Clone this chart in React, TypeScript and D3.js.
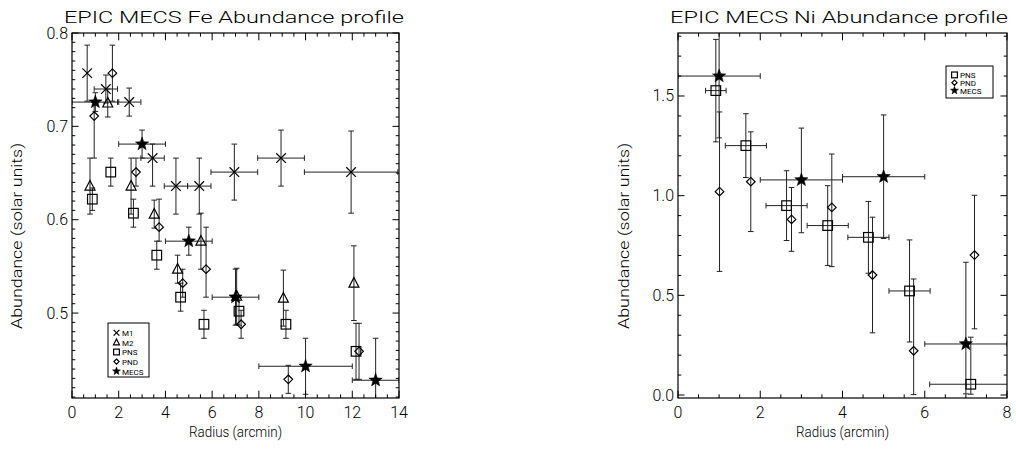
import React from 'react';
import * as d3 from 'd3';

// ---------- Fe panel data ----------
const feM1X = [0.65, 1.45, 2.45, 3.45, 4.45, 5.45, 6.95, 8.95, 11.95];
const feM1Xerr = [0, 0.5, 0.5, 0.5, 0.5, 0.5, 1.0, 1.0, 2.0];
const feM1Y = [0.757, 0.740, 0.726, 0.666, 0.636, 0.636, 0.651, 0.666, 0.651];
const feM1Lo = [0.030, 0.015, 0.015, 0.030, 0.030, 0.030, 0.030, 0.030, 0.044];
const feM1Hi = [0.030, 0.015, 0.015, 0.015, 0.030, 0.030, 0.030, 0.030, 0.044];

const feM2X = [0.77, 1.53, 2.53, 3.52, 4.52, 5.52, 7.05, 9.05, 12.07];
const feM2Y = [0.636, 0.725, 0.636, 0.606, 0.547, 0.577, 0.518, 0.516, 0.532];
const feM2Err = [0.030, 0.015, 0.030, 0.015, 0.015, 0.030, 0.030, 0.030, 0.040];

const fePnsX = [0.87, 1.66, 2.63, 3.63, 4.65, 5.65, 7.15, 9.16, 12.16];
const fePnsY = [0.622, 0.651, 0.607, 0.562, 0.517, 0.488, 0.502, 0.488, 0.459];
const fePnsErr = [0.012, 0.015, 0.015, 0.015, 0.015, 0.015, 0.015, 0.015, 0.030];

const fePndX = [0.95, 1.73, 2.74, 3.73, 4.74, 5.74, 7.24, 9.26, 12.29];
const fePndY = [0.711, 0.757, 0.651, 0.592, 0.532, 0.547, 0.488, 0.429, 0.459];
const fePndLo = [0.045, 0.030, 0.015, 0.015, 0.015, 0.030, 0.015, 0.015, 0.030];
const fePndHi = [0.015, 0.030, 0.015, 0.030, 0.015, 0.045, 0.015, 0.015, 0.030];

const feMecsX = [1, 3, 5, 7, 10, 13];
const feMecsXerr = [1, 1, 1, 1, 2, 1];
const feMecsY = [0.726, 0.681, 0.577, 0.517, 0.443, 0.428];
const feMecsErr = [0.010, 0.015, 0.015, 0.030, 0.030, 0.045];

// ---------- Ni panel data ----------
const niPnsX = [0.92, 1.65, 2.64, 3.64, 4.63, 5.63, 7.12];
const niPnsXerr = [0.25, 0.5, 0.5, 0.5, 0.5, 0.5, 1.0];
const niPnsY = [1.527, 1.251, 0.950, 0.850, 0.791, 0.522, 0.054];
const niPnsLo = [0.257, 0.16, 0.175, 0.20, 0.18, 0.256, 0.05];
const niPnsHi = [0.257, 0.16, 0.175, 0.20, 0.18, 0.256, 0.236];

const niPndX = [1.01, 1.77, 2.76, 3.74, 4.73, 5.73, 7.21];
const niPndY = [1.02, 1.07, 0.881, 0.941, 0.602, 0.222, 0.702];
const niPndLo = [0.40, 0.25, 0.16, 0.297, 0.29, 0.22, 0.37];
const niPndHi = [0.40, 0.25, 0.16, 0.268, 0.29, 0.36, 0.30];

const niMecsX = [1, 3, 5, 7];
const niMecsXerr = [1, 1, 1, 1];
const niMecsY = [1.60, 1.079, 1.095, 0.256];
const niMecsLo = [0.31, 0.265, 0.31, 0.25];
const niMecsHi = [0.31, 0.26, 0.31, 0.41];

const feXTicks = [0, 2, 4, 6, 8, 10, 12, 14];
const feYTicks = [0.5, 0.6, 0.7, 0.8];
const niXTicks = [0, 2, 4, 6, 8];
const niYTicks = [0.0, 0.5, 1.0, 1.5];

const FONT = 'Roboto, "Liberation Sans", Arial, sans-serif';
const FW = 300;

type Sym = 'x' | 'tri' | 'sq' | 'dia' | 'star';
interface Series {
  sym: Sym;
  x: number[];
  y: number[];
  xerr?: number[];
  lo: number[];
  hi: number[];
}

function starPath(r: number) {
  const pts: string[] = [];
  const ri = r * 0.42;
  for (let i = 0; i < 10; i++) {
    const rad = i % 2 === 0 ? r : ri;
    const a = -Math.PI / 2 + (i * Math.PI) / 5;
    pts.push(`${(rad * Math.cos(a)).toFixed(2)},${(rad * Math.sin(a)).toFixed(2)}`);
  }
  return 'M' + pts.join('L') + 'Z';
}

function Symbol({ sym, cx, cy, s = 1 }: { sym: Sym; cx: number; cy: number; s?: number }) {
  const sw = 1.2;
  if (sym === 'x') {
    const h = 4.8 * s;
    return (
      <g stroke="#000" strokeWidth={sw}>
        <line x1={cx - h} y1={cy - h} x2={cx + h} y2={cy + h} />
        <line x1={cx - h} y1={cy + h} x2={cx + h} y2={cy - h} />
      </g>
    );
  }
  if (sym === 'tri') {
    const p = [
      [0, -5.6],
      [-5, 4],
      [5, 4],
    ]
      .map(([a, b]) => `${cx + a * s},${cy + b * s}`)
      .join(' ');
    return <polygon points={p} fill="none" stroke="#000" strokeWidth={sw} />;
  }
  if (sym === 'sq') {
    const h = 4.8 * s;
    return <rect x={cx - h} y={cy - h} width={2 * h} height={2 * h} fill="none" stroke="#000" strokeWidth={sw} />;
  }
  if (sym === 'dia') {
    const h = 4.3 * s;
    const p = `${cx},${cy - h} ${cx + h},${cy} ${cx},${cy + h} ${cx - h},${cy}`;
    return <polygon points={p} fill="none" stroke="#000" strokeWidth={sw} />;
  }
  return <path d={starPath(7 * s)} transform={`translate(${cx},${cy})`} fill="#000" stroke="#000" strokeWidth={0.5} />;
}

interface PanelProps {
  id: string;
  x0: number;
  x1: number;
  y0: number;
  y1: number;
  xDomain: [number, number];
  yDomain: [number, number];
  xTicks: number[];
  yTicks: number[];
  xMinorStep: number;
  yMinorStep: number;
  yFmt: (v: number) => string;
  series: Series[];
  title: string;
  titleX0: number;
  titleLen: number;
  yTitleX: number;
  legend: { sym: Sym; label: string }[];
  legendBox: [number, number, number, number];
  legendRowH: number;
  legendFont: number;
}

function Panel(p: PanelProps) {
  const xs = d3.scaleLinear().domain(p.xDomain).range([p.x0, p.x1]);
  const ys = d3.scaleLinear().domain(p.yDomain).range([p.y1, p.y0]);
  const xMinor = d3.range(p.xDomain[0], p.xDomain[1] + 1e-9, p.xMinorStep);
  const yStart = Math.ceil(p.yDomain[0] / p.yMinorStep - 1e-6) * p.yMinorStep;
  const yMinor = d3.range(yStart, p.yDomain[1] + 1e-9, p.yMinorStep);
  const majLenX = 7.3;
  const majLenY = 6.5;
  const cap = 2.8;
  const clipId = `clip-${p.id}`;
  const [lx, ly, lw, lh] = p.legendBox;
  return (
    <g>
      <defs>
        <clipPath id={clipId}>
          <rect x={p.x0} y={p.y0} width={p.x1 - p.x0} height={p.y1 - p.y0} />
        </clipPath>
      </defs>
      <text
        x={p.titleX0}
        y={23}
        fontFamily={FONT}
        fontWeight={FW}
        fontSize={17}
        textLength={p.titleLen}
        lengthAdjust="spacingAndGlyphs"
        fill="#000"
      >
        {p.title}
      </text>
      {/* error bars and symbols */}
      <g clipPath={`url(#${clipId})`}>
        {p.series.map((s, si) =>
          s.x.map((xv, i) => {
            const cx = xs(xv);
            const cy = ys(s.y[i]);
            const yTop = ys(s.y[i] + s.hi[i]);
            const yBot = ys(s.y[i] - s.lo[i]);
            const xe = s.xerr ? s.xerr[i] : 0;
            return (
              <g key={`e${si}-${i}`} stroke="#222" strokeWidth={1} fill="none">
                <line x1={cx} y1={yTop} x2={cx} y2={yBot} />
                <line x1={cx - cap} y1={yTop} x2={cx + cap} y2={yTop} />
                <line x1={cx - cap} y1={yBot} x2={cx + cap} y2={yBot} />
                {xe > 0 && (
                  <>
                    <line x1={xs(xv - xe)} y1={cy} x2={xs(xv + xe)} y2={cy} />
                    <line x1={xs(xv - xe)} y1={cy - cap} x2={xs(xv - xe)} y2={cy + cap} />
                    <line x1={xs(xv + xe)} y1={cy - cap} x2={xs(xv + xe)} y2={cy + cap} />
                  </>
                )}
              </g>
            );
          })
        )}
        {p.series.map((s, si) =>
          s.x.map((xv, i) => <Symbol key={`s${si}-${i}`} sym={s.sym} cx={xs(xv)} cy={ys(s.y[i])} />)
        )}
      </g>
      {/* frame */}
      <rect x={p.x0} y={p.y0} width={p.x1 - p.x0} height={p.y1 - p.y0} fill="none" stroke="#000" strokeWidth={1.2} />
      {/* ticks */}
      <g stroke="#000" strokeWidth={1}>
        {xMinor.map((v, i) => {
          const x = xs(v);
          const isMaj = p.xTicks.some((t) => Math.abs(t - v) < 1e-6);
          const L = isMaj ? majLenX : majLenX / 2;
          return (
            <g key={`xm${i}`}>
              <line x1={x} y1={p.y1} x2={x} y2={p.y1 - L} />
              <line x1={x} y1={p.y0} x2={x} y2={p.y0 + L} />
            </g>
          );
        })}
        {yMinor.map((v, i) => {
          const y = ys(v);
          const isMaj = p.yTicks.some((t) => Math.abs(t - v) < 1e-6);
          const L = isMaj ? majLenY : majLenY / 2;
          return (
            <g key={`ym${i}`}>
              <line x1={p.x0} y1={y} x2={p.x0 + L} y2={y} />
              <line x1={p.x1} y1={y} x2={p.x1 - L} y2={y} />
            </g>
          );
        })}
      </g>
      {/* tick labels */}
      <g fontFamily={FONT} fontWeight={FW} fontSize={16} fill="#000">
        {p.xTicks.map((t) => (
          <text key={`xl${t}`} x={xs(t)} y={p.y1 + 20} textAnchor="middle">
            {t}
          </text>
        ))}
        {p.yTicks.map((t) => (
          <text key={`yl${t}`} x={p.x0 - 4} y={ys(t) + 5.5} textAnchor="end">
            {p.yFmt(t)}
          </text>
        ))}
      </g>
      {/* axis titles */}
      <text
        x={(p.x0 + p.x1) / 2}
        y={p.y1 + 39}
        textAnchor="middle"
        fontFamily={FONT}
        fontWeight={FW}
        fontSize={14}
        textLength={93}
        lengthAdjust="spacingAndGlyphs"
      >
        Radius (arcmin)
      </text>
      <text
        transform={`translate(${p.yTitleX},236) rotate(-90)`}
        textAnchor="middle"
        fontFamily={FONT}
        fontWeight={FW}
        fontSize={14}
        textLength={186}
        lengthAdjust="spacingAndGlyphs"
      >
        Abundance (solar units)
      </text>
      {/* legend */}
      <rect x={lx} y={ly} width={lw} height={lh} fill="#fff" stroke="#000" strokeWidth={1} />
      {p.legend.map((e, i) => {
        const cy = ly + 5 + p.legendRowH * (i + 0.5);
        return (
          <g key={`lg${i}`}>
            <Symbol sym={e.sym} cx={lx + 8.5} cy={cy} s={0.6} />
            <text x={lx + 14} y={cy + 3.3} fontFamily={FONT} fontSize={p.legendFont} fill="#000">
              {e.label}
            </text>
          </g>
        );
      })}
    </g>
  );
}

export default function App() {
  const feSeries: Series[] = [
    { sym: 'x', x: feM1X, y: feM1Y, xerr: feM1Xerr, lo: feM1Lo, hi: feM1Hi },
    { sym: 'tri', x: feM2X, y: feM2Y, lo: feM2Err, hi: feM2Err },
    { sym: 'sq', x: fePnsX, y: fePnsY, lo: fePnsErr, hi: fePnsErr },
    { sym: 'dia', x: fePndX, y: fePndY, lo: fePndLo, hi: fePndHi },
    { sym: 'star', x: feMecsX, y: feMecsY, xerr: feMecsXerr, lo: feMecsErr, hi: feMecsErr },
  ];
  const niSeries: Series[] = [
    { sym: 'sq', x: niPnsX, y: niPnsY, xerr: niPnsXerr, lo: niPnsLo, hi: niPnsHi },
    { sym: 'dia', x: niPndX, y: niPndY, lo: niPndLo, hi: niPndHi },
    { sym: 'star', x: niMecsX, y: niMecsY, xerr: niMecsXerr, lo: niMecsLo, hi: niMecsHi },
  ];
  return (
    <svg width={1016} height={450} style={{ position: 'absolute', left: 0, top: 0, background: '#fff' }}>
      <rect width={1016} height={450} fill="#fff" />
      <Panel
        id="fe"
        x0={72}
        x1={399}
        y0={33}
        y1={398}
        xDomain={[0, 14]}
        yDomain={[0.409, 0.8]}
        xTicks={feXTicks}
        yTicks={feYTicks}
        xMinorStep={0.5}
        yMinorStep={0.01}
        yFmt={(v) => v.toFixed(1)}
        series={feSeries}
        title="EPIC MECS Fe Abundance profile"
        titleX0={64}
        titleLen={340}
        yTitleX={22}
        legend={[
          { sym: 'x', label: 'M1' },
          { sym: 'tri', label: 'M2' },
          { sym: 'sq', label: 'PNS' },
          { sym: 'dia', label: 'PND' },
          { sym: 'star', label: 'MECS' },
        ]}
        legendBox={[108, 323, 41, 54]}
        legendRowH={9.6}
        legendFont={8}
      />
      <Panel
        id="ni"
        x0={678}
        x1={1007}
        y0={33}
        y1={398}
        xDomain={[0, 8]}
        yDomain={[-0.015, 1.816]}
        xTicks={niXTicks}
        yTicks={niYTicks}
        xMinorStep={0.5}
        yMinorStep={0.1}
        yFmt={(v) => v.toFixed(1)}
        series={niSeries}
        title="EPIC MECS Ni Abundance profile"
        titleX0={670}
        titleLen={338}
        yTitleX={629}
        legend={[
          { sym: 'sq', label: 'PNS' },
          { sym: 'dia', label: 'PND' },
          { sym: 'star', label: 'MECS' },
        ]}
        legendBox={[946, 66, 47, 32]}
        legendRowH={7.8}
        legendFont={8}
      />
    </svg>
  );
}
